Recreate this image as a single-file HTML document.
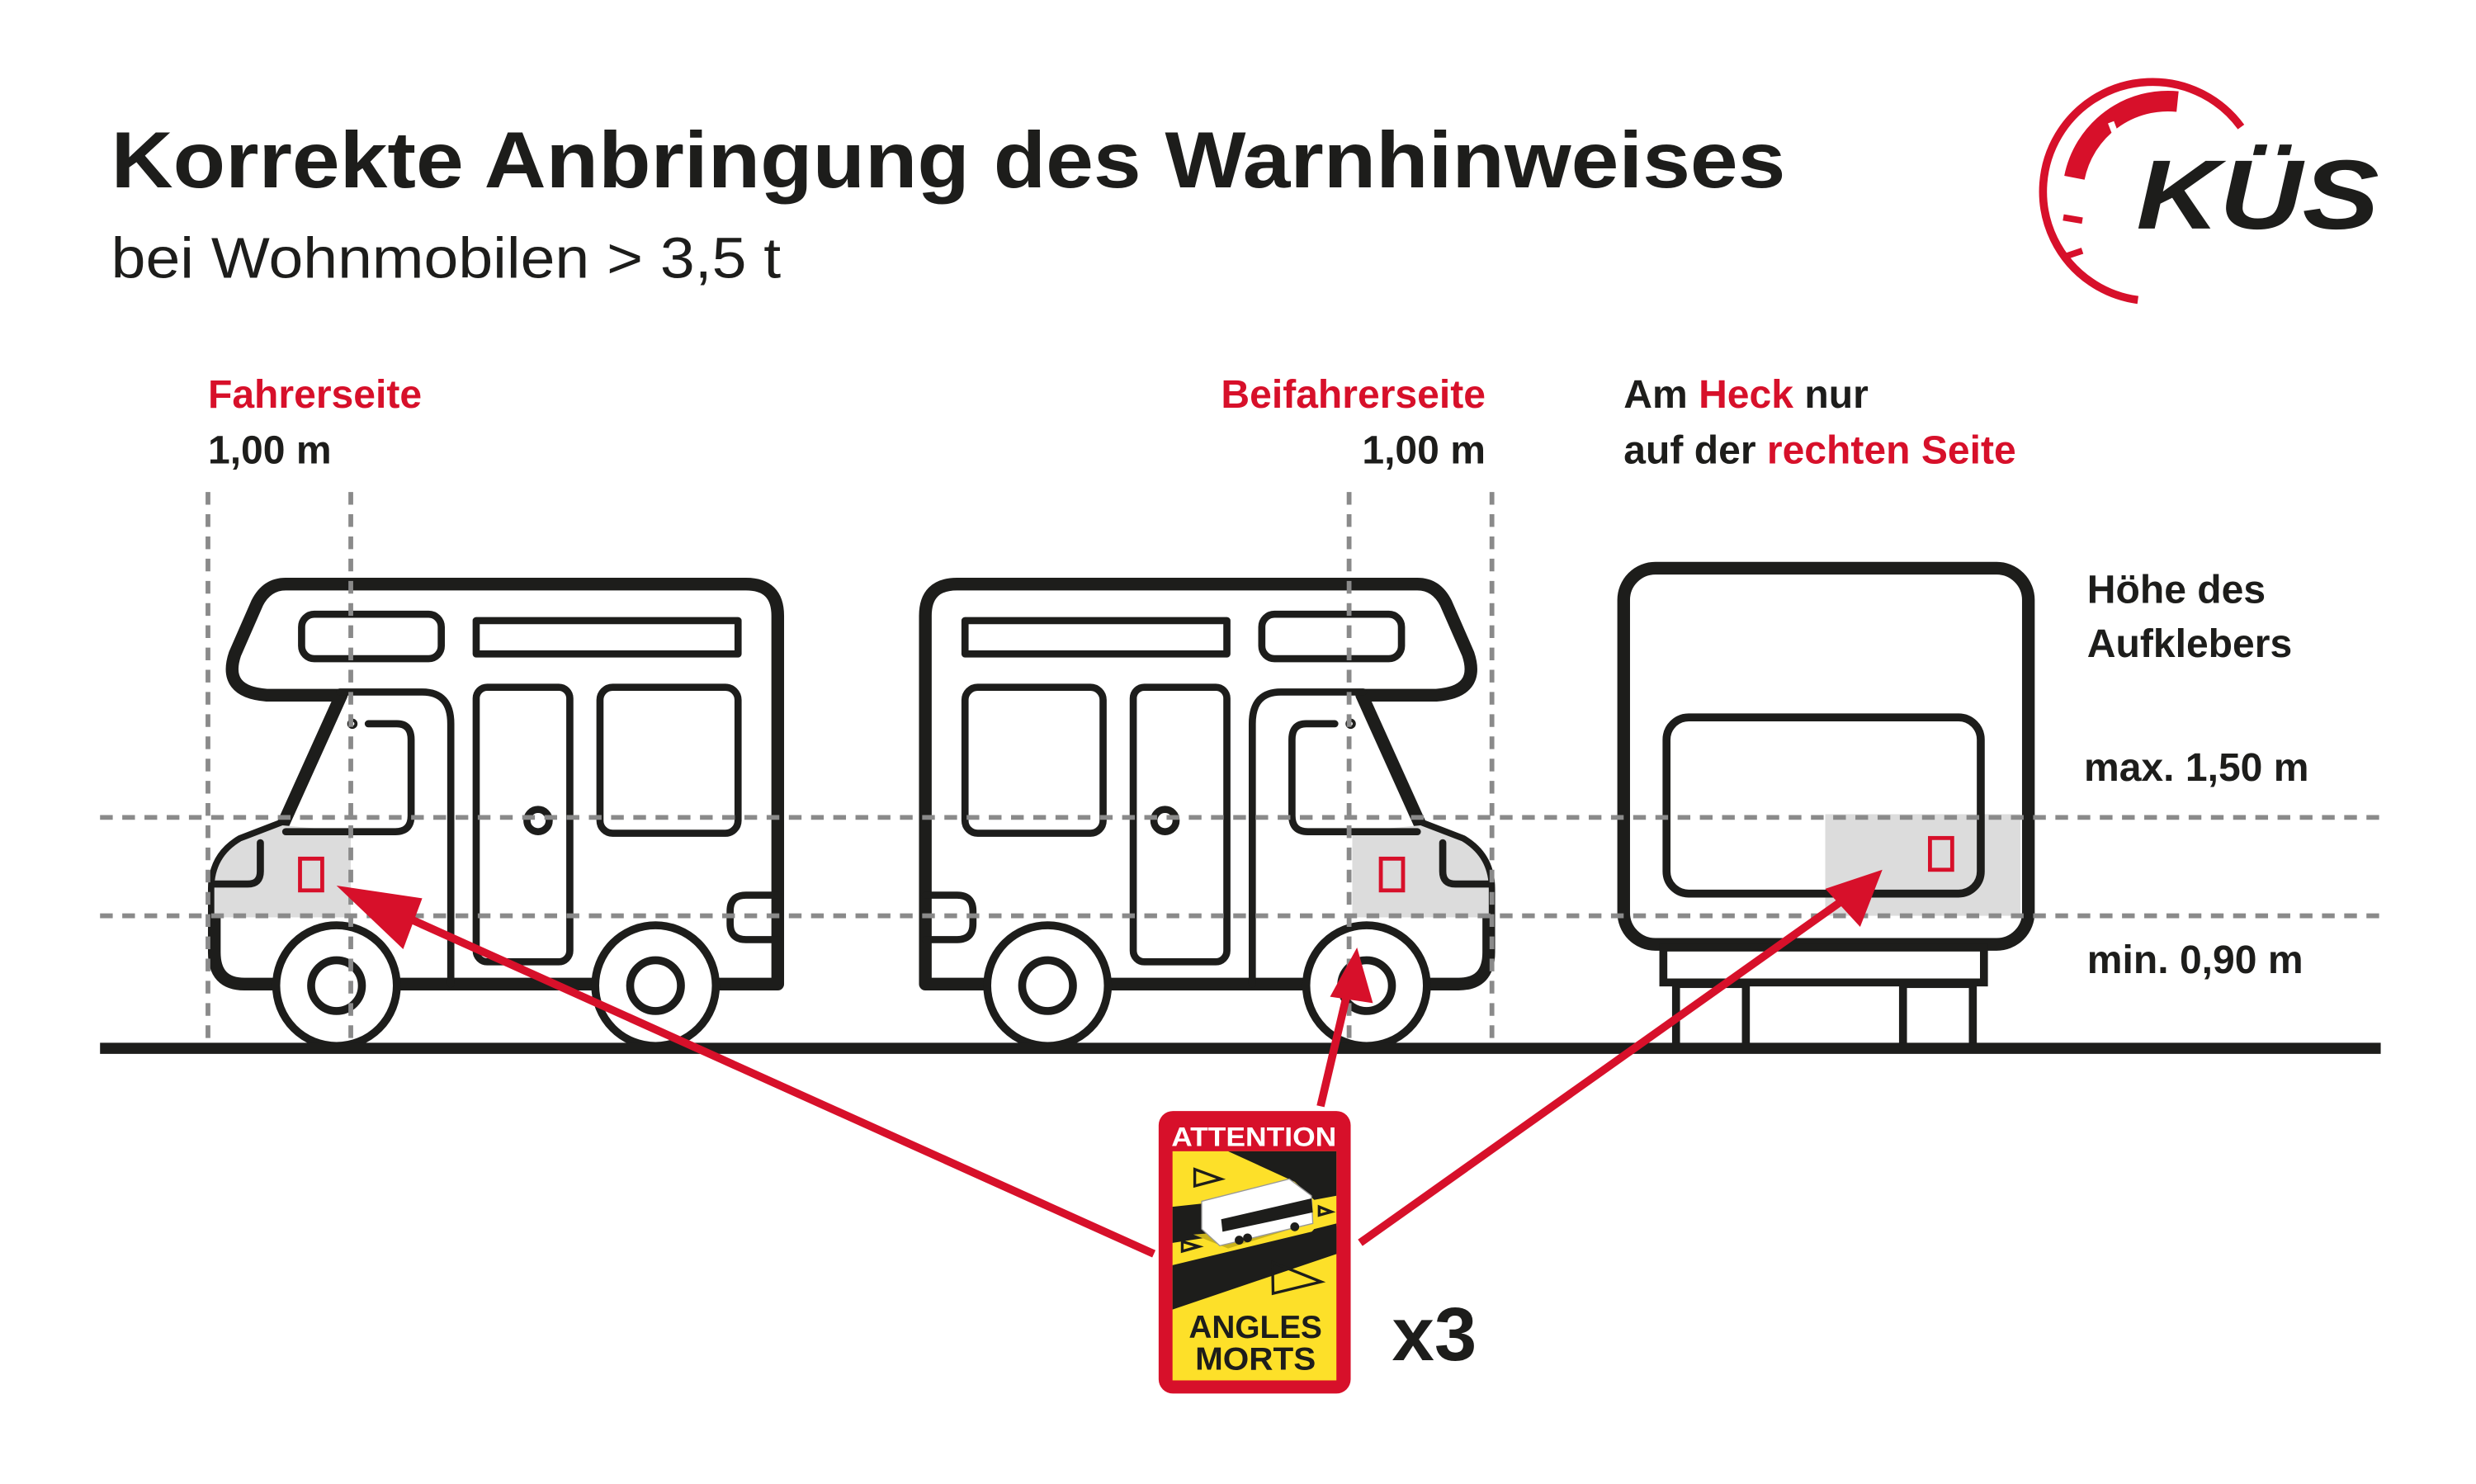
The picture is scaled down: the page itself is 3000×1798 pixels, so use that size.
<!DOCTYPE html>
<html><head><meta charset="utf-8"><style>
html,body{margin:0;padding:0;background:#fff;}
svg{display:block;}
text{font-family:"Liberation Sans",sans-serif;}
</style></head><body>
<svg width="3000" height="1798" viewBox="0 0 1560 935" xmlns="http://www.w3.org/2000/svg">
<rect width="1560" height="935" fill="#fff"/>
<text x="70" y="118" font-size="50" font-weight="bold" fill="#1d1d1b" textLength="1055" lengthAdjust="spacingAndGlyphs">Korrekte Anbringung des Warnhinweises</text>
<text x="70" y="175" font-size="36" fill="#1d1d1b" textLength="422" lengthAdjust="spacingAndGlyphs">bei Wohnmobilen &gt; 3,5 t</text>

<g fill="none" stroke="#d7102a">
<path d="M1347,189 A69,69 0 1 1 1412,80" stroke-width="5"/>
<path d="M1307,112 A60,60 0 0 1 1372,64" stroke-width="13"/>
<line x1="1300" y1="137" x2="1312" y2="139" stroke-width="4"/>
<line x1="1300" y1="162" x2="1312" y2="158" stroke-width="4"/>
<line x1="1330" y1="77" x2="1335" y2="90" stroke-width="4" stroke="#fff"/>
</g>
<text x="1346" y="144" font-size="62" font-weight="bold" font-style="italic" fill="#1d1d1b" textLength="153" lengthAdjust="spacingAndGlyphs">KÜS</text>

<g font-size="25" font-weight="bold" fill="#1d1d1b">
<text x="131" y="257" fill="#d7102a">Fahrerseite</text>
<text x="131" y="292">1,00 m</text>
<text x="936" y="257" fill="#d7102a" text-anchor="end">Beifahrerseite</text>
<text x="936" y="292" text-anchor="end">1,00 m</text>
<text x="1023" y="257">Am <tspan fill="#d7102a">Heck</tspan> nur</text>
<text x="1023" y="292">auf der <tspan fill="#d7102a">rechten Seite</tspan></text>
<text x="1315" y="380">Höhe des</text>
<text x="1315" y="414">Aufklebers</text>
<text x="1313" y="492">max. 1,50 m</text>
<text x="1315" y="613">min. 0,90 m</text>
</g>

<defs>
<g id="camper">
<path d="M180,368 H470 Q490,368 490,388 V620 H154 Q135,620 135,600 V560 Q135,540 152,530 L178,520 L215,438 H168 Q140,436 148,412 L162,380 Q168,368 180,368 Z" fill="#fff" stroke="#1d1d1b" stroke-width="8" stroke-linejoin="round"/>
<path d="M178,520 L152,530 Q135,540 135,560 V578 H221 V524 Z" fill="#dcdcdc"/>
<rect x="189" y="541" width="14" height="20" fill="none" stroke="#d7102a" stroke-width="2.5"/>
<g fill="none" stroke="#1d1d1b" stroke-width="4.5" stroke-linecap="round" stroke-linejoin="round">
<rect x="190" y="387" width="88" height="28" rx="8"/>
<rect x="300" y="391" width="165" height="21"/>
<path d="M214,436 H266 Q284,436 284,456 V620"/>
<path d="M232,456 H250 Q259,456 259,466 V514 Q259,524 249,524 H180"/>
<circle cx="222" cy="456" r="1"/>
<rect x="300" y="433" width="59" height="173" rx="7"/>
<circle cx="339" cy="517" r="7"/>
<rect x="378" y="433" width="87" height="92" rx="8"/>
<path d="M490,564 H470 Q460,564 460,574 V582 Q460,592 470,592 H490"/>
<path d="M164,531 V549 Q164,557 156,557 H135"/>
</g>
<g fill="#fff" stroke="#1d1d1b">
<circle cx="212" cy="621" r="38" stroke-width="5"/>
<circle cx="212" cy="621" r="16" stroke-width="5"/>
<circle cx="413" cy="621" r="38" stroke-width="5"/>
<circle cx="413" cy="621" r="16" stroke-width="5"/>
</g>
</g>
</defs>
<use href="#camper"/>
<use href="#camper" transform="translate(1073,0) scale(-1,1)"/>

<rect x="1023" y="358" width="255" height="237" rx="20" fill="#fff" stroke="#1d1d1b" stroke-width="8"/>
<rect x="1150" y="513" width="123" height="64" fill="#dcdcdc"/>
<rect x="1050" y="452" width="198" height="111" rx="14" fill="none" stroke="#1d1d1b" stroke-width="5"/>
<rect x="1216" y="528" width="14" height="20" fill="none" stroke="#d7102a" stroke-width="2.5"/>
<rect x="1048" y="597" width="202" height="22" fill="#fff" stroke="#1d1d1b" stroke-width="5"/>
<rect x="1056" y="620" width="44" height="40" fill="#fff" stroke="#1d1d1b" stroke-width="5"/>
<rect x="1199" y="620" width="44" height="40" fill="#fff" stroke="#1d1d1b" stroke-width="5"/>

<g stroke="#8a8a8a" stroke-width="3" stroke-dasharray="8 6" fill="none">
<line x1="63" y1="515" x2="1500" y2="515"/>
<line x1="63" y1="577" x2="1500" y2="577"/>
<line x1="131" y1="310" x2="131" y2="658"/>
<line x1="221" y1="310" x2="221" y2="658"/>
<line x1="850" y1="310" x2="850" y2="658"/>
<line x1="940" y1="310" x2="940" y2="658"/>
</g>

<rect x="63" y="657" width="1437" height="7" fill="#1d1d1b"/>

<g stroke="#d7102a" stroke-width="5" fill="none">
<line x1="727" y1="790" x2="245" y2="573"/>
<line x1="832" y1="697" x2="849" y2="625"/>
<line x1="857" y1="783" x2="1160" y2="568"/>
</g>
<g fill="#d7102a">
<polygon points="212,558 266,566 254,598"/>
<polygon points="855,597 865,632 838,628"/>
<polygon points="1186,548 1172,584 1150,560"/>
</g>

<rect x="730" y="700" width="121" height="178" rx="9" fill="#d7102a"/>
<g transform="translate(721.25,688.6) scale(0.175)">
<rect x="100" y="210" width="590" height="825" fill="#fde029"/>
<polygon points="300,210 690,210 690,370 610,385 540,320" fill="#1d1d1b"/>
<polygon points="610,490 690,470 690,580 560,545" fill="#1d1d1b"/>
<polygon points="100,620 600,500 690,480 690,580 100,780" fill="#1d1d1b"/>
<polygon points="100,410 210,398 230,520 100,540" fill="#1d1d1b"/>
<polygon points="175,510 560,480 300,560" fill="#c9b21c"/>
<polygon points="205,390 520,310 600,370 605,470 270,550 205,490" fill="#fff" stroke="#999" stroke-width="4"/>
<polygon points="275,455 600,380 605,430 280,500" fill="#1d1d1b"/>
<circle cx="340" cy="530" r="16" fill="#1d1d1b"/><circle cx="370" cy="522" r="16" fill="#1d1d1b"/><circle cx="540" cy="482" r="16" fill="#1d1d1b"/>
<g fill="none" stroke="#1d1d1b" stroke-width="10">
<polygon points="180,275 275,310 180,335"/>
<polygon points="460,610 635,680 462,722"/>
<polygon points="135,535 195,553 135,570"/>
<polygon points="628,410 672,428 628,440"/>
</g>
</g>
<text x="790" y="722" font-size="17" font-weight="bold" fill="#fff" text-anchor="middle" textLength="104" lengthAdjust="spacingAndGlyphs">ATTENTION</text>
<text x="791" y="843" font-size="20" font-weight="bold" fill="#1d1d1b" text-anchor="middle" textLength="84" lengthAdjust="spacingAndGlyphs">ANGLES</text>
<text x="791" y="863" font-size="20" font-weight="bold" fill="#1d1d1b" text-anchor="middle" textLength="76" lengthAdjust="spacingAndGlyphs">MORTS</text>
<text x="877" y="857" font-size="48" font-weight="bold" fill="#1d1d1b">x3</text>
</svg>
</body></html>
